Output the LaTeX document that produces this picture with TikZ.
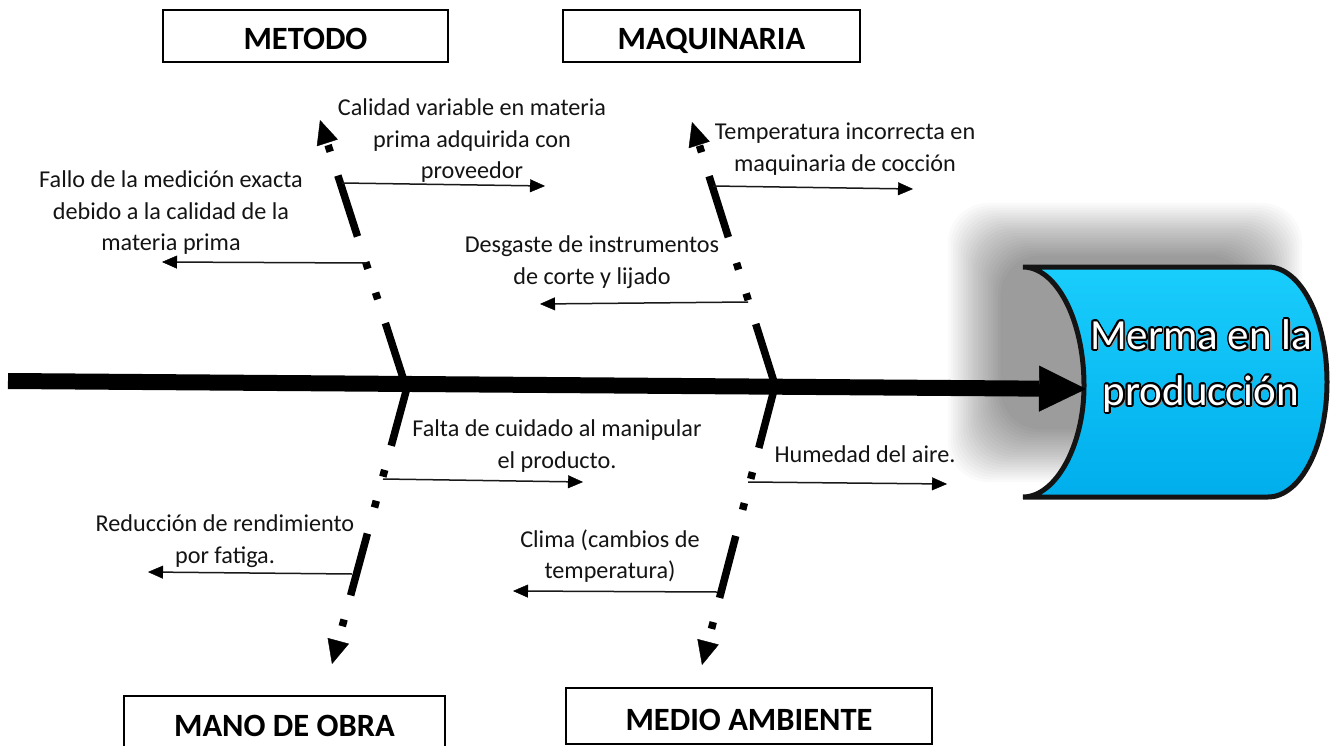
\documentclass[tikz,border=0pt]{standalone}
\usepackage{fontspec}
\setmainfont{Carlito}
\usetikzlibrary{arrows.meta,calc}
\definecolor{headtop}{RGB}{25,205,252}
\definecolor{headbot}{RGB}{0,174,236}
\begin{document}
\begin{tikzpicture}[x=1pt,y=-1pt,
  lbl/.style={font=\fontsize{24.2}{31.5}\selectfont, align=center, inner sep=0pt, text=black!92},
  ttl/.style={draw=black, line width=1.3pt, font=\bfseries\fontsize{32.5}{36}\selectfont, inner sep=0pt, text height=28pt, text depth=0pt},
  bone/.style={line width=7.5pt, dash pattern=on 64pt off 25pt on 7pt off 25pt on 7pt off 27pt, -{Triangle[length=24pt,width=22pt,line width=0.4pt,fill=black,color=black]}},
  sub/.style={line width=1.5pt, draw=black!90, -{Triangle[length=15pt,width=13pt,line width=0.4pt,fill=black,color=black]}},
  spine/.style={line width=16pt, -{Triangle[length=47pt,width=46pt,line width=0.4pt,fill=black,color=black]}},
  headtxt/.style={font=\fontsize{43}{56}\selectfont, align=center, inner sep=0pt},
  shadowstep/.style={fill=black, fill opacity=0.021, rounded corners=40pt},
]
\useasboundingbox (0,0) rectangle (1330,746);
\fill[white] (0,0) rectangle (1330,746);

% soft shadow behind the head
\foreach \r in {0,2.5,...,52.5}
  \fill[shadowstep] (948+\r,203+\r) rectangle (1302-\r,482-\r);

% head shape
\path[draw=black!92, line width=5pt, top color=headtop, bottom color=headbot]
  (1023,267) -- (1268,267)
  .. controls (1300.6,267) and (1327,318.5) .. (1327,382)
  .. controls (1327,445.5) and (1300.6,497) .. (1268,497)
  -- (1023,497)
  .. controls (1055.6,497) and (1084,445.5) .. (1084,386)
  .. controls (1084,318.5) and (1055.6,267) .. (1023,267) -- cycle;

% spine
\coordinate (s0) at (8,381);
\coordinate (s1) at (1086,389);
\draw[spine] (s0) -- (s1);

% bones
\coordinate (b1s) at (405,384); \coordinate (b1e) at (320,120);
\coordinate (b2s) at (775,385); \coordinate (b2e) at (692,122);
\coordinate (b3s) at (408,384); \coordinate (b3e) at (332,664);
\coordinate (b4s) at (775,386); \coordinate (b4e) at (702,665);
\draw[bone] (b1s) -- (b1e);
\draw[bone] (b2s) -- (b2e);
\draw[bone] (b3s) -- (b3e);
\draw[bone] (b4s) -- (b4e);

% sub arrows
\coordinate (a1s) at (342,183); \coordinate (a1e) at (545,186);
\coordinate (a2s) at (366,263); \coordinate (a2e) at (162,262);
\coordinate (a3s) at (713,186); \coordinate (a3e) at (913,189);
\coordinate (a4s) at (748,302); \coordinate (a4e) at (540,304);
\coordinate (a5s) at (383,479); \coordinate (a5e) at (583,482);
\coordinate (a6s) at (748,482); \coordinate (a6e) at (947,484);
\coordinate (a7s) at (352,574); \coordinate (a7e) at (148,572);
\coordinate (a8s) at (717,592); \coordinate (a8e) at (513,591);
\foreach \k in {1,...,8} \draw[sub] (a\k s) -- (a\k e);

% labels
\node[lbl] (t1) at (472,141) {Calidad variable en materia\\prima adquirida con\\proveedor};
\node[lbl] (t2) at (171,213) {Fallo de la medición exacta\\debido a la calidad de la\\materia prima};
\node[lbl] (t3) at (845,149) {Temperatura incorrecta en\\maquinaria de cocción};
\node[lbl] (t4) at (592,262) {Desgaste de instrumentos\\de corte y lijado};
\node[lbl] (t5) at (557,446) {Falta de cuidado al manipular\\el producto.};
\node[lbl] (t6) at (865,454) {Humedad del aire.};
\node[lbl] (t7) at (225,541) {Reducción de rendimiento\\por fatiga.};
\node[lbl] (t8) at (610,556) {Clima (cambios de\\temperatura)};

% category boxes
\node[ttl, minimum width=285pt, minimum height=52pt] (metodo) at (305.5,36) {METODO};
\node[ttl, minimum width=297pt, minimum height=52pt] (maq) at (711.5,36) {MAQUINARIA};
\node[ttl, minimum width=321pt, minimum height=62pt, text height=20pt, text depth=2pt] (mano) at (284.5,727) {MANO DE OBRA};
\node[ttl, minimum width=366pt, minimum height=56pt] (medio) at (749,716) {MEDIO AMBIENTE};

% head text: white with black outline and grey shadow
\coordinate (hc) at (1201,366);
\node[headtxt, text=black!45] (hs) at ([xshift=2.5pt,yshift=-2.5pt]hc) {Merma en la\\producción};
\foreach \a [count=\i] in {0,22.5,...,337.5}
  \node[headtxt, text=black] (ho\i) at ([shift={(\a:1.7pt)}]hc) {Merma en la\\producción};
\node[headtxt, text=white] (head) at (hc) {Merma en la\\producción};
\end{tikzpicture}
\end{document}
